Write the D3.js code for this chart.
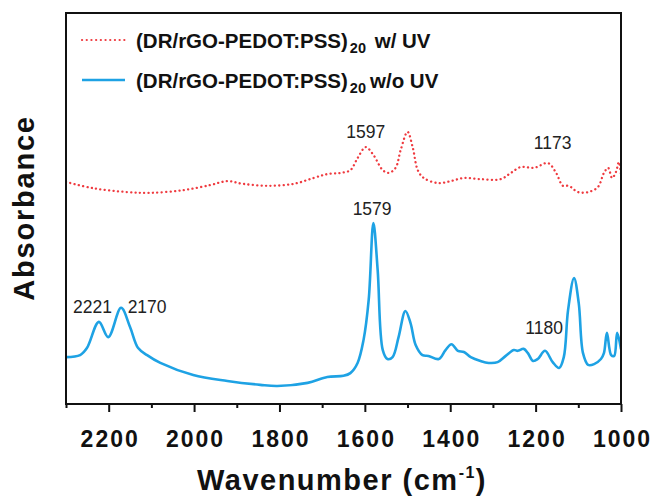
<!DOCTYPE html>
<html>
<head>
<meta charset="utf-8">
<script src="https://cdn.jsdelivr.net/npm/d3@7"></script>
<style>
  html, body { margin: 0; padding: 0; background: #fff; }
  svg { display: block; }
  text { font-family: Arial, "Liberation Sans", sans-serif; }
</style>
</head>
<body>
<svg id="chart" width="654" height="504"></svg>
<script>
// ---- data ----
const xTicks = [2200, 2000, 1800, 1600, 1400, 1200, 1000];
const xMinorTicks = [2300, 2100, 1900, 1700, 1500, 1300, 1100];

const seriesNames = ["w/ UV", "w/o UV"];

const wavenumberWithUV = [2300, 2237, 2157, 2103, 2025, 1962, 1922, 1885, 1828, 1767, 1720, 1688, 1657, 1634, 1617, 1598, 1580, 1558, 1544, 1528, 1516, 1500, 1488, 1476, 1462, 1429, 1399, 1368, 1328, 1282, 1258, 1235, 1204, 1171, 1153, 1136, 1122, 1101, 1077, 1054, 1040, 1030, 1021, 1012, 1005, 1000];
const absorbanceWithUV = [56.8, 55.2, 54.2, 54.0, 54.7, 56.0, 57.0, 56.3, 55.8, 56.3, 57.8, 58.8, 59.1, 59.8, 62.9, 65.7, 63.7, 59.8, 59.1, 60.4, 65.0, 69.6, 65.7, 59.8, 57.8, 56.5, 57.0, 57.8, 57.5, 57.5, 59.1, 60.6, 60.4, 61.6, 59.3, 55.8, 55.8, 54.2, 54.2, 55.5, 59.1, 60.4, 57.8, 59.3, 61.9, 58.6];

const wavenumberWithoutUV = [2300, 2267, 2251, 2223, 2201, 2171, 2150, 2131, 2110, 2079, 2002, 1922, 1845, 1805, 1734, 1688, 1650, 1634, 1617, 1603, 1591, 1580, 1570, 1558, 1547, 1535, 1521, 1505, 1493, 1481, 1465, 1451, 1427, 1411, 1397, 1382, 1368, 1352, 1329, 1310, 1289, 1270, 1251, 1242, 1228, 1218, 1206, 1195, 1178, 1160, 1145, 1134, 1124, 1110, 1099, 1089, 1077, 1063, 1047, 1040, 1033, 1023, 1016, 1009, 1000];
const absorbanceWithoutUV = [12.0, 12.5, 14.3, 21.0, 17.1, 24.6, 19.7, 14.3, 12.5, 10.5, 7.4, 5.9, 4.9, 4.6, 5.4, 6.9, 7.2, 7.9, 10.5, 16.4, 26.6, 46.3, 34.3, 13.8, 11.5, 12.0, 17.1, 23.8, 20.7, 15.1, 12.5, 12.3, 11.5, 13.8, 15.3, 13.6, 13.3, 12.0, 11.0, 10.5, 10.7, 12.3, 13.8, 13.6, 14.1, 13.0, 11.0, 11.5, 13.6, 10.7, 9.2, 12.0, 24.0, 32.2, 25.8, 13.0, 10.0, 10.2, 11.5, 13.0, 18.2, 12.5, 12.3, 18.2, 14.0];

const peakLabels = ["2221", "2170", "1597", "1173", "1579", "1180"];
const peakLabelWavenumber = [2238, 2110, 1598, 1160, 1583, 1180];
const peakLabelAbsorbance = [23.3, 23.3, 68.0, 65.2, 48.3, 17.9];

// ---- layout ----
const svg = d3.select("#chart");
const mLeft = 66, mRight = 621, mTop = 13, mBottom = 404;

const x = d3.scaleLinear().domain([2300, 1000]).range([mLeft, mRight]);
const y = d3.scaleLinear().domain([0, 100]).range([mBottom, mTop]);

const red = "#ef3a3f";
const blue = "#1ea2e4";

svg.append("defs").append("clipPath").attr("id", "clip")
  .append("rect").attr("x", mLeft).attr("y", mTop).attr("width", mRight - mLeft).attr("height", mBottom - mTop);

const line = d3.line()
  .x(d => x(d[0]))
  .y(d => y(d[1]))
  .curve(d3.curveCatmullRom.alpha(0.5));

const dataWith = wavenumberWithUV.map((w, i) => [w, absorbanceWithUV[i]]);
const dataWithout = wavenumberWithoutUV.map((w, i) => [w, absorbanceWithoutUV[i]]);

const g = svg.append("g").attr("clip-path", "url(#clip)");
g.append("path").datum(dataWithout)
  .attr("d", line).attr("fill", "none")
  .attr("stroke", blue).attr("stroke-width", 2.6).attr("stroke-linejoin", "round");
g.append("path").datum(dataWith)
  .attr("d", line).attr("fill", "none")
  .attr("stroke", red).attr("stroke-width", 2.3)
  .attr("stroke-linecap", "round").attr("stroke-dasharray", "0.1,4.3");

// frame
svg.append("rect")
  .attr("x", mLeft).attr("y", mTop).attr("width", mRight - mLeft).attr("height", mBottom - mTop)
  .attr("fill", "none").attr("stroke", "#111").attr("stroke-width", 2);

// x axis
const xAxis = d3.axisBottom(x).tickValues(xTicks).tickSize(8).tickFormat(d3.format("d"));
const ax = svg.append("g").attr("transform", `translate(0,${mBottom})`).call(xAxis);
ax.select(".domain").remove();
ax.selectAll(".tick line").attr("stroke", "#111").attr("stroke-width", 2);
ax.selectAll(".tick text")
  .attr("y", 43).attr("dy", null).attr("dx", 1)
  .attr("fill", "#111")
  .style("font-size", "23px").style("font-weight", "bold").style("letter-spacing", "2px");

const axMinor = d3.axisBottom(x).tickValues(xMinorTicks).tickSize(4).tickFormat("");
const am = svg.append("g").attr("transform", `translate(0,${mBottom})`).call(axMinor);
am.select(".domain").remove();
am.selectAll(".tick line").attr("stroke", "#111").attr("stroke-width", 2);

// axis titles
const xt = svg.append("text")
  .attr("x", 342).attr("y", 490).attr("text-anchor", "middle")
  .attr("fill", "#111").style("font-size", "29px").style("font-weight", "bold")
  .style("letter-spacing", "1.5px");
xt.append("tspan").text("Wavenumber (cm");
xt.append("tspan").text("-1").style("font-size", "16px").attr("dy", -12);
xt.append("tspan").text(")").attr("dy", 12);

svg.append("text")
  .attr("transform", "translate(34,208) rotate(-90)")
  .attr("text-anchor", "middle")
  .attr("fill", "#111").style("font-size", "29px").style("font-weight", "bold")
  .style("letter-spacing", "1.8px")
  .text("Absorbance");

// peak labels
svg.append("g").selectAll("text").data(peakLabels).join("text")
  .attr("x", (d, i) => x(peakLabelWavenumber[i]))
  .attr("y", (d, i) => y(peakLabelAbsorbance[i]))
  .attr("text-anchor", "middle")
  .attr("fill", "#222")
  .style("font-size", "17.5px")
  .text(d => d);

// legend
const legendY = [40, 80];
const legendColors = [red, blue];
const lg = svg.append("g");
seriesNames.forEach((name, i) => {
  const ly = legendY[i];
  const l = lg.append("line")
    .attr("x1", 82).attr("x2", 125).attr("y1", ly).attr("y2", ly)
    .attr("stroke", legendColors[i]);
  if (i === 0) {
    l.attr("stroke-width", 2.2).attr("stroke-linecap", "round").attr("stroke-dasharray", "0.1,4.6");
  } else {
    l.attr("stroke-width", 2.6);
  }
  const t = lg.append("text")
    .attr("x", 136).attr("y", ly + 7.5)
    .attr("fill", "#111").style("font-size", "20.5px").style("font-weight", "bold");
  t.append("tspan").text("(DR/rGO-PEDOT:PSS)");
  t.append("tspan").text("20").style("font-size", "14.5px").attr("dx", 2).attr("dy", 5);
  t.append("tspan").text((i === 0 ? "\u00a0" : "") + name).attr("dx", i === 0 ? 3 : 4).attr("dy", -5);
});
</script>
</body>
</html>
